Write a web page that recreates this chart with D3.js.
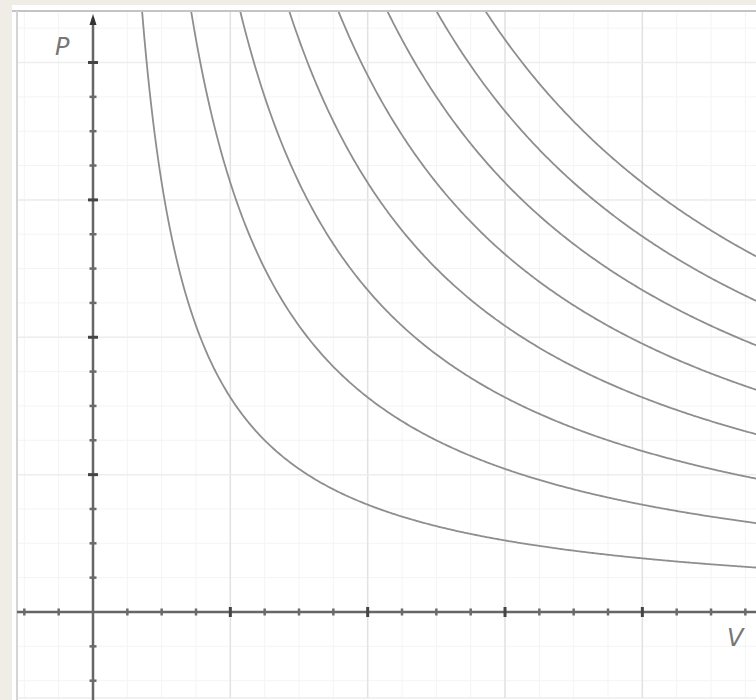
<!DOCTYPE html>
<html>
<head>
<meta charset="utf-8">
<script src="https://cdn.jsdelivr.net/npm/d3@7"></script>
<style>
  body { margin: 0; background: #efede6; }
  svg { display: block; }
</style>
</head>
<body>
<div id="chart"></div>
<script>
// isotherms P*V = k, in grid units (minor tick = 1)
var isothermK = [25, 50, 75, 100, 125, 150, 175, 200];
var xTicks = d3.range(-2, 20);
var yTicks = d3.range(-2, 18);
var majorGrid = [4, 8, 12, 16];

var svgWidth = 756;
var svgHeight = 700;

var frame = { left: 17, top: 11, right: 756, bottom: 698 };

var svg = d3.select("#chart")
  .append("svg")
  .attr("width", svgWidth)
  .attr("height", svgHeight);

// scales: origin at (93, 612), one unit ~34.33 px
var xScale = d3.scaleLinear().domain([0, 19.31]).range([93, 756]);
var yScale = d3.scaleLinear().domain([0, 17.5]).range([612, 11]);

// white plot area
svg.append("rect")
  .attr("x", 12).attr("y", 5)
  .attr("width", svgWidth - 12).attr("height", svgHeight - 5)
  .attr("fill", "#ffffff");

svg.append("clipPath").attr("id", "clip")
  .append("rect")
  .attr("x", frame.left).attr("y", frame.top)
  .attr("width", frame.right - frame.left)
  .attr("height", frame.bottom - frame.top);

var plot = svg.append("g").attr("clip-path", "url(#clip)");

// minor grid
plot.selectAll(".vminor").data(xTicks).enter().append("line")
  .attr("x1", d => xScale(d)).attr("x2", d => xScale(d))
  .attr("y1", frame.top).attr("y2", frame.bottom)
  .attr("stroke", "#f4f4f4").attr("stroke-width", 1);
plot.selectAll(".hminor").data(yTicks).enter().append("line")
  .attr("y1", d => yScale(d)).attr("y2", d => yScale(d))
  .attr("x1", frame.left).attr("x2", frame.right)
  .attr("stroke", "#f4f4f4").attr("stroke-width", 1);

// major grid
plot.selectAll(".vmajor").data(majorGrid).enter().append("line")
  .attr("x1", d => xScale(d)).attr("x2", d => xScale(d))
  .attr("y1", frame.top).attr("y2", frame.bottom)
  .attr("stroke", "#e2e2e2").attr("stroke-width", 1.5);
plot.selectAll(".hmajor").data(majorGrid).enter().append("line")
  .attr("y1", d => yScale(d)).attr("y2", d => yScale(d))
  .attr("x1", frame.left).attr("x2", frame.right)
  .attr("stroke", "#ededed").attr("stroke-width", 1.5);

// frame lines (top and left)
svg.append("line")
  .attr("x1", frame.left - 5).attr("x2", svgWidth)
  .attr("y1", frame.top).attr("y2", frame.top)
  .attr("stroke", "#c4c4c4").attr("stroke-width", 2);
svg.append("line")
  .attr("x1", frame.left).attr("x2", frame.left)
  .attr("y1", frame.top).attr("y2", svgHeight)
  .attr("stroke", "#d4d4d4").attr("stroke-width", 2);
svg.append("line")
  .attr("x1", frame.left).attr("x2", svgWidth)
  .attr("y1", frame.bottom).attr("y2", frame.bottom)
  .attr("stroke", "#e4e4e4").attr("stroke-width", 1);

// isotherms
var line = d3.line()
  .x(d => xScale(d.v))
  .y(d => yScale(d.p))
  .curve(d3.curveBasis);

isothermK.forEach(function (k) {
  var pts = d3.range(k / 18.5, 19.6, 0.05).map(v => ({ v: v, p: k / v }));
  plot.append("path")
    .datum(pts)
    .attr("d", line)
    .attr("fill", "none")
    .attr("stroke", "#8e8e8e")
    .attr("stroke-width", 1.8);
});

// axes
var axes = svg.append("g");
axes.append("line")
  .attr("x1", frame.left).attr("x2", svgWidth)
  .attr("y1", yScale(0)).attr("y2", yScale(0))
  .attr("stroke", "#666").attr("stroke-width", 2.5);
axes.append("line")
  .attr("x1", xScale(0)).attr("x2", xScale(0))
  .attr("y1", 18).attr("y2", svgHeight)
  .attr("stroke", "#666").attr("stroke-width", 2.5);

// arrow head on P axis
axes.append("path")
  .attr("d", `M${xScale(0) - 3.5},25 L${xScale(0)},14 L${xScale(0) + 3.5},25 Z`)
  .attr("fill", "#333");

// ticks
axes.selectAll(".xt").data(xTicks.filter(d => d !== 0)).enter().append("line")
  .attr("x1", d => xScale(d)).attr("x2", d => xScale(d))
  .attr("y1", d => yScale(0) - (d % 4 === 0 ? 5 : 3.5))
  .attr("y2", d => yScale(0) + (d % 4 === 0 ? 5 : 3.5))
  .attr("stroke", d => d % 4 === 0 ? "#444" : "#6a6a6a")
  .attr("stroke-width", d => d % 4 === 0 ? 3 : 2.5);
axes.selectAll(".yt").data(yTicks.filter(d => d !== 0 && d < 17)).enter().append("line")
  .attr("y1", d => yScale(d)).attr("y2", d => yScale(d))
  .attr("x1", d => xScale(0) - (d % 4 === 0 ? 5 : 3.5))
  .attr("x2", d => xScale(0) + (d % 4 === 0 ? 5 : 3.5))
  .attr("stroke", d => d % 4 === 0 ? "#444" : "#6a6a6a")
  .attr("stroke-width", d => d % 4 === 0 ? 3 : 2.5);

// axis labels
svg.append("text")
  .attr("x", 55).attr("y", 55)
  .attr("font-family", "DejaVu Sans, sans-serif")
  .attr("font-style", "italic")
  .attr("font-size", 24)
  .attr("fill", "#777")
  .text("P");
svg.append("text")
  .attr("x", 727).attr("y", 646)
  .attr("font-family", "DejaVu Sans, sans-serif")
  .attr("font-style", "italic")
  .attr("font-size", 24)
  .attr("fill", "#777")
  .text("V");
</script>
</body>
</html>
